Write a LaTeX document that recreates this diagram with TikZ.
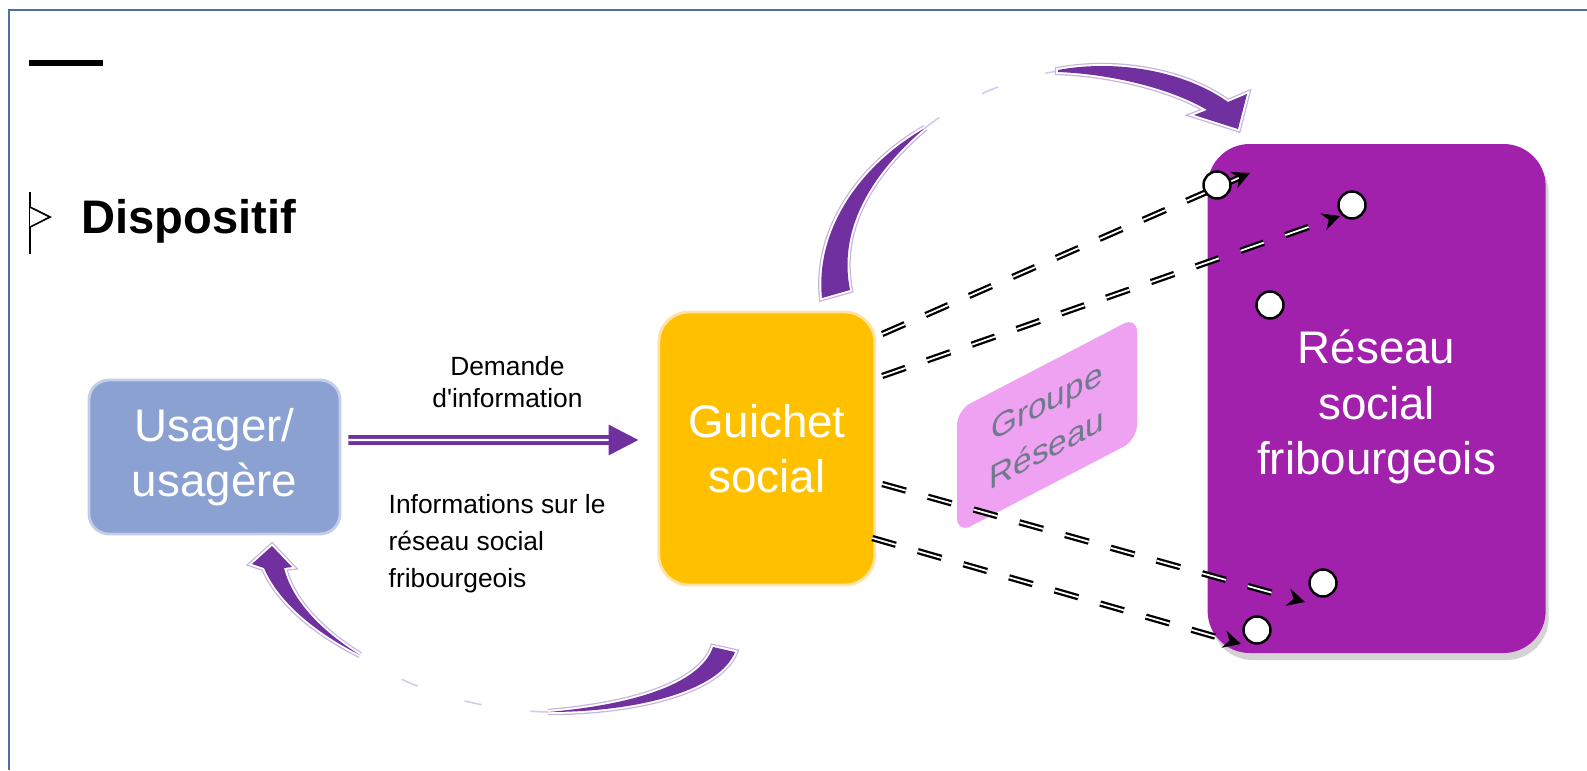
\documentclass[tikz,border=0pt]{standalone}
\usepackage{fontspec}
\setmainfont{Liberation Sans}
\usetikzlibrary{positioning}
\usetikzlibrary{arrows.meta}
\usetikzlibrary{shadows}

\definecolor{frameblue}{HTML}{4F6F9F}
\definecolor{usagerblue}{HTML}{8AA1D1}
\definecolor{usageredge}{HTML}{C3CDEA}
\definecolor{guichetorange}{HTML}{FFC000}
\definecolor{guichetedge}{HTML}{FFE2A6}
\definecolor{reseaupurple}{HTML}{A121AC}
\definecolor{groupepink}{HTML}{F0A2F2}
\definecolor{groupegray}{HTML}{6F7B8C}
\definecolor{arrowpurple}{HTML}{7030A0}
\definecolor{glowpurple}{HTML}{C7B2DE}

\begin{document}
\begin{tikzpicture}[
		box/.style={rounded corners=2mm, text=white, align=center, line width=0.8pt, font=\fontsize{13}{15.8}\selectfont},
		dot/.style={circle, draw=black, fill=white, line width=0.7pt, minimum size=2.7mm, inner sep=0pt},
		lbl/.style={inner sep=0pt, font=\fontsize{7.5}{9.2}\selectfont},
		a/.style={draw=arrowpurple, double=white, line width=1.1pt, double distance=0.6pt, -{Triangle[length=8.5pt, width=8.5pt]}},
		d/.style={draw=black, double=white, line width=0.65pt, double distance=0.5pt, dash pattern=on 7pt off 6.5pt, -{Stealth[length=5pt, width=5pt]}},
		c/.style={fill=arrowpurple, line join=round, preaction={draw=glowpurple, line width=1.8pt}, preaction={draw=white, line width=1.1pt}},
		faint/.style={draw=glowpurple!70, line width=0.45pt, dash pattern=on 5pt off 14pt},
	]
		\useasboundingbox (0,0) rectangle (15.87,-7.70);

		% frame and title
		\draw[frameblue, line width=0.6pt] (0.09,-7.70) -- (0.09,-0.10) -- (15.87,-0.10);
		\fill (0.29,-0.60) rectangle (1.03,-0.66);
		\draw[line width=0.45pt] (0.30,-1.92) -- (0.30,-2.54);
		\draw[line width=0.45pt, fill=white] (0.30,-2.07) -- (0.50,-2.17) -- (0.30,-2.27);
		\node[anchor=west, inner sep=0pt, font=\bfseries\fontsize{13.4}{16}\selectfont] (Titre) at (0.81,-2.21) {Dispositif};

		% boxes
		\node[box, draw=usageredge, fill=usagerblue, minimum width=2.51cm, minimum height=1.54cm] (Usager) at (2.145,-4.57) {Usager/\\usagère};
		\node[box, draw=guichetedge, fill=guichetorange, rounded corners=3mm, minimum width=2.16cm, minimum height=2.73cm, right=3.16cm of Usager, yshift=0.085cm] (Guichet) {Guichet\\social};
		\node[box, fill=reseaupurple, rounded corners=4.2mm, minimum width=3.38cm, minimum height=5.09cm, right=3.3cm of Guichet, yshift=0.5cm,
			drop shadow={shadow xshift=0.3mm, shadow yshift=-0.7mm, opacity=0.35}] (Reseau) {\raisebox{-2.8pt}[\height][\depth]{\begin{tabular}{@{}c@{}}Réseau\\social\\fribourgeois\end{tabular}}};
		\node[fill=groupepink, rounded corners=1.5mm, yslant=0.52, minimum width=1.8cm, minimum height=1.23cm, align=center,
			text=groupegray, font=\fontsize{9.5}{13.5}\selectfont] (Groupe) at (10.47,-4.25) {Groupe\\Réseau};

		% request arrow
		\draw[a, shorten <=0.07cm, shorten >=0.19cm] ([yshift=1.7mm]Usager.east) -- ([yshift=0.85mm]Guichet.west)
			node[midway, above=3mm, xshift=0.8mm, lbl, align=center] (Demande) {Demande\\d\textquotesingle information};
		\node[lbl, anchor=north west, align=left, font=\fontsize{7.5}{10.5}\selectfont] (Info) at (3.88,-4.94) {Informations sur le\\réseau social\\fribourgeois};

		% links to the network
		\coordinate (T1) at (12.50,-1.73);
		\coordinate (T2) at (13.40,-2.16);
		\coordinate (T3) at (13.05,-6.02);
		\coordinate (T4) at (12.41,-6.44);
		\draw[d] ([xshift=0.6mm, yshift=11.45mm]Guichet.east) -- (T1);
		\draw[d] ([xshift=0.6mm, yshift=7.25mm]Guichet.east) -- (T2);
		\draw[d] ([xshift=0.6mm, yshift=-3.55mm]Guichet.east) -- (T3);
		\draw[d] ([xshift=-0.4mm, yshift=-8.95mm]Guichet.east) -- (T4);

		\node[dot] (D1) at (12.17,-1.85) {};
		\node[dot] (D2) at (13.52,-2.05) {};
		\node[dot] (D3) at (12.70,-3.05) {};
		\node[dot] (D4) at (13.23,-5.83) {};
		\node[dot] (D5) at (12.57,-6.30) {};

		% upper cycle
		\path[c] (8.22,-2.98) .. controls (8.15,-2.30) and (8.60,-1.65) .. (9.25,-1.28)
			.. controls (8.70,-1.75) and (8.38,-2.30) .. (8.50,-2.90) -- cycle;
		\draw[faint] (9.25,-1.28) .. controls (9.60,-1.00) and (10.10,-0.78) .. (10.58,-0.71);
		\path[c] (10.58,-0.70) .. controls (11.10,-0.60) and (11.80,-0.68) .. (12.28,-1.02)
			-- (12.47,-0.94) -- (12.38,-1.29) -- (11.94,-1.15) -- (12.07,-1.10)
			.. controls (11.70,-0.88) and (11.10,-0.74) .. (10.58,-0.72) -- cycle;

		% lower cycle
		\path[c] (7.35,-6.52) .. controls (7.20,-6.90) and (6.40,-7.12) .. (5.48,-7.12)
			.. controls (6.30,-7.05) and (7.00,-6.85) .. (7.13,-6.47) -- cycle;
		\draw[faint] (5.48,-7.12) .. controls (4.70,-7.10) and (4.00,-6.85) .. (3.60,-6.55);
		\path[c] (3.60,-6.55) .. controls (3.20,-6.35) and (2.80,-6.05) .. (2.64,-5.68)
			-- (2.52,-5.64) -- (2.72,-5.46) -- (2.92,-5.67) -- (2.84,-5.68)
			.. controls (2.92,-6.00) and (3.20,-6.30) .. (3.60,-6.55) -- cycle;
	\end{tikzpicture}
\end{document}
